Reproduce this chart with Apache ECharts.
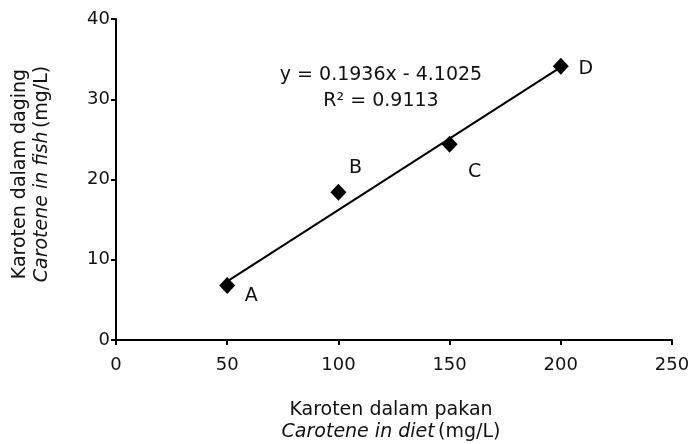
<!DOCTYPE html>
<html>
<head>
<meta charset="utf-8">
<script src="https://cdn.jsdelivr.net/npm/echarts@6/dist/echarts.min.js"></script>
<style>
html,body{margin:0;padding:0;background:#fff;}
#chart{width:695px;height:444px;}
</style>
</head>
<body>
<div id="chart"></div>
<script>
// Data
const pointNames = ['A', 'B', 'C', 'D'];
const dietCarotene = [50, 100, 150, 200];
const fishCarotene = [6.8, 18.4, 24.4, 34.1];
const trendX = [50, 200];
const trendY = [7.3, 34.0];
const equationLines = ['y = 0.1936x - 4.1025', 'R² = 0.9113'];

const FONT = 'DejaVu Sans';
const TXT = '#111';
const labelOffsets = {A: [24, 11], B: [17, -24], C: [25, 28], D: [25, 3]};

const chart = echarts.init(document.getElementById('chart'));
const pts = pointNames.map((n, i) => ({
  name: n,
  value: [dietCarotene[i], fishCarotene[i]],
  label: {show: true, position: 'inside', offset: labelOffsets[n], formatter: n}
}));
const trend = trendX.map((x, i) => [x, trendY[i]]);

chart.setOption({
  animation: false,
  textStyle: {fontFamily: FONT},
  grid: {left: 116, right: 23, top: 19, bottom: 104},
  xAxis: {
    type: 'value', min: 0, max: 250, interval: 50,
    axisLine: {show: true, lineStyle: {color: '#000', width: 2}},
    axisTick: {show: true, inside: false, length: 5, lineStyle: {color: '#000', width: 2}},
    splitLine: {show: false},
    axisLabel: {color: TXT, fontSize: 18, fontFamily: FONT, margin: 16}
  },
  yAxis: {
    type: 'value', min: 0, max: 40, interval: 10,
    axisLine: {show: true, lineStyle: {color: '#000', width: 2}},
    axisTick: {show: true, inside: false, length: 5, lineStyle: {color: '#000', width: 2}},
    splitLine: {show: false},
    axisLabel: {color: TXT, fontSize: 18, fontFamily: FONT, margin: 6}
  },
  series: [
    {
      type: 'line',
      data: trend,
      symbol: 'none',
      lineStyle: {color: '#000', width: 2},
      z: 2
    },
    {
      type: 'scatter',
      data: pts,
      symbol: 'diamond',
      symbolSize: [16, 17],
      itemStyle: {color: '#000', opacity: 1},
      label: {color: TXT, fontSize: 19, fontFamily: FONT},
      emphasis: {disabled: true},
      z: 3
    }
  ],
  graphic: [
    {
      type: 'text', x: 381, y: 75,
      style: {text: equationLines[0], fill: TXT, font: '19px ' + FONT, align: 'center', verticalAlign: 'middle'}
    },
    {
      type: 'text', x: 381, y: 101,
      style: {text: equationLines[1], fill: TXT, font: '19px ' + FONT, align: 'center', verticalAlign: 'middle'}
    },
    {
      type: 'text', x: 391, y: 410,
      style: {text: 'Karoten dalam pakan', fill: TXT, font: '19px ' + FONT, align: 'center', verticalAlign: 'middle'}
    },
    {
      type: 'text', x: 391, y: 432,
      style: {
        text: '{i|Carotene in diet} {n|(mg/L)}',
        align: 'center', verticalAlign: 'middle',
        rich: {
          i: {fill: TXT, fontStyle: 'italic', fontSize: 19, fontFamily: FONT},
          n: {fill: TXT, fontSize: 19, fontFamily: FONT}
        }
      }
    },
    {
      type: 'text', x: 20, y: 174, rotation: Math.PI / 2,
      style: {text: 'Karoten dalam daging', fill: TXT, font: '19px ' + FONT, align: 'center', verticalAlign: 'middle'}
    },
    {
      type: 'text', x: 42, y: 174, rotation: Math.PI / 2,
      style: {
        text: '{i|Carotene in fish} {n|(mg/L)}',
        align: 'center', verticalAlign: 'middle',
        rich: {
          i: {fill: TXT, fontStyle: 'italic', fontSize: 19, fontFamily: FONT},
          n: {fill: TXT, fontSize: 19, fontFamily: FONT}
        }
      }
    }
  ]
});
</script>
</body>
</html>
